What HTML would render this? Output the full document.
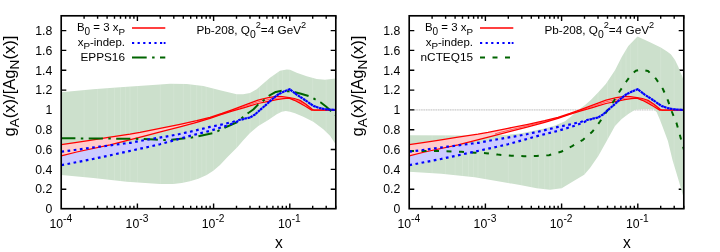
<!DOCTYPE html>
<html><head><meta charset="utf-8"><title>gA(x)/[AgN(x)]</title>
<style>
html,body{margin:0;padding:0;background:#fff;}
svg{display:block;font-family:"Liberation Sans",sans-serif;fill:#000;}
</style></head>
<body>
<svg width="720" height="252" viewBox="0 0 720 252">
<rect width="720" height="252" fill="#fff"/>
<g font-size="12.25">
<text x="52.3" y="213.2" text-anchor="end">0</text>
<text x="52.3" y="193.4" text-anchor="end">0.2</text>
<text x="52.3" y="173.6" text-anchor="end">0.4</text>
<text x="52.3" y="153.7" text-anchor="end">0.6</text>
<text x="52.3" y="133.9" text-anchor="end">0.8</text>
<text x="52.3" y="114.1" text-anchor="end">1</text>
<text x="52.3" y="94.3" text-anchor="end">1.2</text>
<text x="52.3" y="74.5" text-anchor="end">1.4</text>
<text x="52.3" y="54.6" text-anchor="end">1.6</text>
<text x="52.3" y="34.8" text-anchor="end">1.8</text>
<text x="49.4" y="228.4">10<tspan dy="-6.5" font-size="10.2">-4</tspan></text>
<text x="125.6" y="228.4">10<tspan dy="-6.5" font-size="10.2">-3</tspan></text>
<text x="201.8" y="228.4">10<tspan dy="-6.5" font-size="10.2">-2</tspan></text>
<text x="278.0" y="228.4">10<tspan dy="-6.5" font-size="10.2">-1</tspan></text>
</g>
<text transform="translate(15,136.6) rotate(-90)" font-size="16.6">g<tspan dy="3.8" font-size="13.6">A</tspan><tspan dy="-3.8">(x)/[Ag</tspan><tspan dy="3.8" font-size="13.6">N</tspan><tspan dy="-3.8">(x)]</tspan></text>
<text x="278.8" y="247.6" text-anchor="middle" font-size="15.6">x</text>
<clipPath id="c0"><rect x="61.2" y="15.8" width="274.6" height="192.89999999999998"/></clipPath>
<path d="M61.2,109.9H335.8" stroke="#ececec" stroke-width="1.3"/>
<path d="M61.2,109.9H335.8" stroke="#cfcfcf" stroke-width="1.1" stroke-dasharray="1.3 1.1"/>
<g stroke="#000" stroke-width="1.4" fill="none">
<path d="M84.1,208.7v-2.9M84.1,15.8v2.9"/>
<path d="M97.6,208.7v-2.9M97.6,15.8v2.9"/>
<path d="M107.1,208.7v-2.9M107.1,15.8v2.9"/>
<path d="M114.5,208.7v-2.9M114.5,15.8v2.9"/>
<path d="M120.5,208.7v-2.9M120.5,15.8v2.9"/>
<path d="M125.6,208.7v-2.9M125.6,15.8v2.9"/>
<path d="M130.0,208.7v-2.9M130.0,15.8v2.9"/>
<path d="M133.9,208.7v-2.9M133.9,15.8v2.9"/>
<path d="M137.4,208.7v-5.1M137.4,15.8v5.1"/>
<path d="M160.3,208.7v-2.9M160.3,15.8v2.9"/>
<path d="M173.8,208.7v-2.9M173.8,15.8v2.9"/>
<path d="M183.3,208.7v-2.9M183.3,15.8v2.9"/>
<path d="M190.7,208.7v-2.9M190.7,15.8v2.9"/>
<path d="M196.7,208.7v-2.9M196.7,15.8v2.9"/>
<path d="M201.8,208.7v-2.9M201.8,15.8v2.9"/>
<path d="M206.2,208.7v-2.9M206.2,15.8v2.9"/>
<path d="M210.1,208.7v-2.9M210.1,15.8v2.9"/>
<path d="M213.6,208.7v-5.1M213.6,15.8v5.1"/>
<path d="M236.5,208.7v-2.9M236.5,15.8v2.9"/>
<path d="M250.0,208.7v-2.9M250.0,15.8v2.9"/>
<path d="M259.5,208.7v-2.9M259.5,15.8v2.9"/>
<path d="M266.9,208.7v-2.9M266.9,15.8v2.9"/>
<path d="M272.9,208.7v-2.9M272.9,15.8v2.9"/>
<path d="M278.0,208.7v-2.9M278.0,15.8v2.9"/>
<path d="M282.4,208.7v-2.9M282.4,15.8v2.9"/>
<path d="M286.3,208.7v-2.9M286.3,15.8v2.9"/>
<path d="M289.8,208.7v-5.1M289.8,15.8v5.1"/>
<path d="M312.7,208.7v-2.9M312.7,15.8v2.9"/>
<path d="M326.2,208.7v-2.9M326.2,15.8v2.9"/>
<path d="M335.7,208.7v-2.9M335.7,15.8v2.9"/>
<path d="M61.2,189.2h5.1M335.8,189.2h-5.1"/>
<path d="M61.2,169.4h5.1M335.8,169.4h-5.1"/>
<path d="M61.2,149.5h5.1M335.8,149.5h-5.1"/>
<path d="M61.2,129.7h5.1M335.8,129.7h-5.1"/>
<path d="M61.2,109.9h5.1M335.8,109.9h-5.1"/>
<path d="M61.2,90.1h5.1M335.8,90.1h-5.1"/>
<path d="M61.2,70.3h5.1M335.8,70.3h-5.1"/>
<path d="M61.2,50.4h5.1M335.8,50.4h-5.1"/>
<path d="M61.2,30.6h5.1M335.8,30.6h-5.1"/>
</g>
<g clip-path="url(#c0)">
<clipPath id="b0"><polygon points="61.2,92.2 93.0,89.3 120.0,87.2 160.0,84.5 170.0,83.8 186.7,84.0 203.3,86.0 220.0,90.2 236.7,94.3 243.0,94.2 250.0,93.0 256.7,89.3 263.0,83.8 270.0,77.7 280.0,70.7 286.7,69.5 290.0,69.7 296.7,72.7 306.7,76.3 316.7,79.0 325.0,79.7 335.8,78.4 335.8,144.5 330.0,135.8 323.3,129.2 313.3,121.7 303.3,116.7 295.0,113.3 290.0,111.7 285.8,111.0 281.7,111.7 276.7,114.2 268.3,120.0 258.3,126.0 250.0,133.1 243.3,140.2 237.5,147.0 227.5,157.0 220.0,165.0 213.3,170.8 206.7,175.0 198.3,178.8 190.0,181.2 181.7,182.9 173.3,184.0 160.0,184.0 126.7,181.7 93.3,178.0 61.2,175.0"/></clipPath>
<polygon points="61.2,92.2 93.0,89.3 120.0,87.2 160.0,84.5 170.0,83.8 186.7,84.0 203.3,86.0 220.0,90.2 236.7,94.3 243.0,94.2 250.0,93.0 256.7,89.3 263.0,83.8 270.0,77.7 280.0,70.7 286.7,69.5 290.0,69.7 296.7,72.7 306.7,76.3 316.7,79.0 325.0,79.7 335.8,78.4 335.8,144.5 330.0,135.8 323.3,129.2 313.3,121.7 303.3,116.7 295.0,113.3 290.0,111.7 285.8,111.0 281.7,111.7 276.7,114.2 268.3,120.0 258.3,126.0 250.0,133.1 243.3,140.2 237.5,147.0 227.5,157.0 220.0,165.0 213.3,170.8 206.7,175.0 198.3,178.8 190.0,181.2 181.7,182.9 173.3,184.0 160.0,184.0 126.7,181.7 93.3,178.0 61.2,175.0" fill="#cce0cc"/>
<path d="M84.1,15.8V208.7M97.6,15.8V208.7M107.1,15.8V208.7M114.5,15.8V208.7M120.5,15.8V208.7M125.6,15.8V208.7M130.0,15.8V208.7M137.4,15.8V208.7M160.3,15.8V208.7M173.8,15.8V208.7M183.3,15.8V208.7M190.7,15.8V208.7M196.7,15.8V208.7M201.8,15.8V208.7M206.2,15.8V208.7M213.6,15.8V208.7M236.5,15.8V208.7M250.0,15.8V208.7M259.5,15.8V208.7M266.9,15.8V208.7M272.9,15.8V208.7M278.0,15.8V208.7M282.4,15.8V208.7M289.8,15.8V208.7M312.7,15.8V208.7M326.2,15.8V208.7" stroke="#ffffff" stroke-opacity="0.14" stroke-width="0.9" fill="none" clip-path="url(#b0)"/>
<polygon points="61.2,151.7 74.6,150.0 87.1,148.3 99.2,146.7 111.7,145.2 124.2,143.5 130.4,142.8 142.5,140.5 155.0,138.4 167.3,136.3 179.6,134.0 185.8,132.6 193.3,131.0 210.0,126.9 223.3,124.2 233.3,121.7 241.0,119.5 250.0,117.5 255.0,114.5 260.0,110.0 267.5,103.5 273.0,98.5 278.3,94.3 284.0,91.5 289.6,89.2 296.7,94.6 303.0,98.7 308.3,102.3 313.3,105.9 320.0,108.2 326.7,109.4 335.8,109.9 335.8,109.9 326.7,109.4 320.0,108.2 313.3,105.9 308.3,102.3 303.0,98.7 296.7,94.6 289.6,89.2 284.0,91.5 278.3,94.3 273.0,98.5 267.5,103.5 260.0,110.0 255.0,114.5 250.0,117.5 241.0,119.8 235.0,122.5 226.7,125.8 210.0,130.8 193.3,135.0 176.7,139.6 160.0,144.2 153.3,145.8 126.7,151.7 93.0,159.0 61.2,165.2" fill="#ccccff"/>
<polygon points="61.2,144.7 75.0,142.6 90.0,140.3 110.0,137.2 130.0,134.2 140.0,132.4 160.0,128.3 180.0,124.3 196.7,120.6 210.0,117.3 222.0,113.4 232.0,109.9 240.0,106.9 245.3,104.8 250.0,103.1 258.0,100.2 268.3,97.6 276.7,96.4 282.2,96.5 289.0,97.6 294.4,98.5 300.0,100.4 306.0,104.2 312.5,109.6 314.0,110.0 335.8,110.0 335.8,110.0 311.7,110.1 305.0,106.0 300.0,103.1 294.4,100.3 289.0,98.1 283.3,98.7 276.7,99.6 268.3,101.3 258.0,103.5 250.0,105.9 245.3,107.3 240.0,108.9 232.0,111.1 220.0,114.8 210.0,118.4 196.7,122.4 180.0,126.8 163.3,131.2 143.3,136.3 110.0,144.8 76.7,152.0 61.2,155.8" fill="#ffcccc"/>
<polyline points="61.2,144.7 75.0,142.6 90.0,140.3 110.0,137.2 130.0,134.2 140.0,132.4 160.0,128.3 180.0,124.3 196.7,120.6 210.0,117.3 222.0,113.4 232.0,109.9 240.0,106.9 245.3,104.8 250.0,103.1 258.0,100.2 268.3,97.6 276.7,96.4 282.2,96.5 289.0,97.6 294.4,98.5 300.0,100.4 306.0,104.2 312.5,109.6 314.0,110.0 335.8,110.0" fill="none" stroke="#ff0000" stroke-width="1.25" stroke-linejoin="round"/>
<polyline points="61.2,155.8 76.7,152.0 110.0,144.8 143.3,136.3 163.3,131.2 180.0,126.8 196.7,122.4 210.0,118.4 220.0,114.8 232.0,111.1 240.0,108.9 245.3,107.3 250.0,105.9 258.0,103.5 268.3,101.3 276.7,99.6 283.3,98.7 289.0,98.1 294.4,100.3 300.0,103.1 305.0,106.0 311.7,110.1 335.8,110.0" fill="none" stroke="#ff0000" stroke-width="1.25" stroke-linejoin="round"/>
<polyline points="196.7,121.5 210.0,117.9 222.0,114.2 232.0,110.5 240.0,107.9 245.3,106.1 250.0,104.5 258.0,101.8 271.0,98.9 279.4,97.8 289.0,97.8 294.4,99.5 300.0,101.7 306.0,105.1 312.0,110.0" fill="none" stroke="#ff0000" stroke-opacity="0.7" stroke-width="0.8" stroke-linejoin="round"/>
<polyline points="61.2,138.3 100.0,138.5 140.0,138.9 155.0,139.6 164.0,140.0 171.7,139.7 185.8,138.3 191.7,137.5 198.3,136.3 212.5,133.3 218.3,130.8 225.0,127.5 237.5,122.0 242.5,117.5 248.3,113.0 253.3,109.5 258.3,104.4 263.8,100.2 269.2,95.7 275.8,91.9 282.0,90.7 288.8,91.3 295.0,92.3 301.0,93.8 308.8,96.1 314.6,99.0 320.8,102.5 326.0,106.5 331.7,111.7 335.8,115.5" fill="none" stroke="#006400" stroke-width="2" stroke-dasharray="14.2 5.4 2.5 5.4" stroke-linejoin="round"/>
<polyline points="61.2,151.7 74.6,150.0 87.1,148.3 99.2,146.7 111.7,145.2 124.2,143.5 130.4,142.8 142.5,140.5 155.0,138.4 167.3,136.3 179.6,134.0 185.8,132.6 193.3,131.0 210.0,126.9 223.3,124.2 233.3,121.7 241.0,119.5 250.0,117.5 255.0,114.5 260.0,110.0 267.5,103.5 273.0,98.5 278.3,94.3 284.0,91.5 289.6,89.2 296.7,94.6 303.0,98.7 308.3,102.3 313.3,105.9 320.0,108.2 326.7,109.4 335.8,109.9" fill="none" stroke="#0000ff" stroke-width="2.2" stroke-dasharray="2.7 3.5" stroke-dashoffset="-0.2" stroke-linejoin="round"/>
<polyline points="61.2,165.2 93.0,159.0 126.7,151.7 153.3,145.8 160.0,144.2 176.7,139.6 193.3,135.0 210.0,130.8 226.7,125.8 235.0,122.5 241.0,119.8 250.0,117.5 255.0,114.5 260.0,110.0 267.5,103.5 273.0,98.5 278.3,94.3 284.0,91.5 289.6,89.2 296.7,94.6 303.0,98.7 308.3,102.3 313.3,105.9 320.0,108.2 326.7,109.4 335.8,109.9" fill="none" stroke="#0000ff" stroke-width="2.2" stroke-dasharray="2.7 3.5" stroke-dashoffset="-0.2" stroke-linejoin="round"/>
</g>
<rect x="61.2" y="15.8" width="274.6" height="192.89999999999998" fill="none" stroke="#000" stroke-width="1.65"/>
<g font-size="11.45">
<text x="125" y="31" text-anchor="end">B<tspan dy="3.5" font-size="10">0</tspan><tspan dy="-3.5"> = 3 x</tspan><tspan dy="3.5" font-size="9.8">P</tspan></text>
<text x="125" y="45.8" text-anchor="end">x<tspan dy="3.5" font-size="9.8">P</tspan><tspan dy="-3.5">-indep.</tspan></text>
<text x="125" y="60.9" text-anchor="end" font-size="11.8">EPPS16</text>
<text x="196.4" y="34.3" font-size="11.75">Pb-208, Q<tspan dy="3.6" font-size="10.4">0</tspan><tspan dy="-9.5" font-size="9.2">2</tspan><tspan dy="5.9">=4 GeV</tspan><tspan dy="-5.9" font-size="9.2">2</tspan></text>
</g>
<path d="M132,28H165.3" stroke="#ff0000" stroke-width="1.3"/>
<path d="M132,43H165.5" stroke="#0000ff" stroke-width="2.2" stroke-dasharray="2.2 3.4 2.2 3.4 2.2 3.4 2.2 3.4 2.2 3.4 2.2 1.5 2.2 100"/>
<path d="M132,57.6H165.3" stroke="#006400" stroke-width="2" stroke-dasharray="14.7 5.4 2.5 5.4"/>
<g font-size="12.25">
<text x="400.3" y="213.2" text-anchor="end">0</text>
<text x="400.3" y="193.4" text-anchor="end">0.2</text>
<text x="400.3" y="173.6" text-anchor="end">0.4</text>
<text x="400.3" y="153.7" text-anchor="end">0.6</text>
<text x="400.3" y="133.9" text-anchor="end">0.8</text>
<text x="400.3" y="114.1" text-anchor="end">1</text>
<text x="400.3" y="94.3" text-anchor="end">1.2</text>
<text x="400.3" y="74.5" text-anchor="end">1.4</text>
<text x="400.3" y="54.6" text-anchor="end">1.6</text>
<text x="400.3" y="34.8" text-anchor="end">1.8</text>
<text x="397.4" y="228.4">10<tspan dy="-6.5" font-size="10.2">-4</tspan></text>
<text x="473.6" y="228.4">10<tspan dy="-6.5" font-size="10.2">-3</tspan></text>
<text x="549.8" y="228.4">10<tspan dy="-6.5" font-size="10.2">-2</tspan></text>
<text x="626.0" y="228.4">10<tspan dy="-6.5" font-size="10.2">-1</tspan></text>
</g>
<text transform="translate(363.0,136.6) rotate(-90)" font-size="16.6">g<tspan dy="3.8" font-size="13.6">A</tspan><tspan dy="-3.8">(x)/[Ag</tspan><tspan dy="3.8" font-size="13.6">N</tspan><tspan dy="-3.8">(x)]</tspan></text>
<text x="626.8" y="247.6" text-anchor="middle" font-size="15.6">x</text>
<clipPath id="c348"><rect x="409.2" y="15.8" width="274.6" height="192.89999999999998"/></clipPath>
<path d="M409.2,109.9H683.8" stroke="#ececec" stroke-width="1.3"/>
<path d="M409.2,109.9H683.8" stroke="#cfcfcf" stroke-width="1.1" stroke-dasharray="1.3 1.1"/>
<g stroke="#000" stroke-width="1.4" fill="none">
<path d="M432.1,208.7v-2.9M432.1,15.8v2.9"/>
<path d="M445.6,208.7v-2.9M445.6,15.8v2.9"/>
<path d="M455.1,208.7v-2.9M455.1,15.8v2.9"/>
<path d="M462.5,208.7v-2.9M462.5,15.8v2.9"/>
<path d="M468.5,208.7v-2.9M468.5,15.8v2.9"/>
<path d="M473.6,208.7v-2.9M473.6,15.8v2.9"/>
<path d="M478.0,208.7v-2.9M478.0,15.8v2.9"/>
<path d="M481.9,208.7v-2.9M481.9,15.8v2.9"/>
<path d="M485.4,208.7v-5.1M485.4,15.8v5.1"/>
<path d="M508.3,208.7v-2.9M508.3,15.8v2.9"/>
<path d="M521.8,208.7v-2.9M521.8,15.8v2.9"/>
<path d="M531.3,208.7v-2.9M531.3,15.8v2.9"/>
<path d="M538.7,208.7v-2.9M538.7,15.8v2.9"/>
<path d="M544.7,208.7v-2.9M544.7,15.8v2.9"/>
<path d="M549.8,208.7v-2.9M549.8,15.8v2.9"/>
<path d="M554.2,208.7v-2.9M554.2,15.8v2.9"/>
<path d="M558.1,208.7v-2.9M558.1,15.8v2.9"/>
<path d="M561.6,208.7v-5.1M561.6,15.8v5.1"/>
<path d="M584.5,208.7v-2.9M584.5,15.8v2.9"/>
<path d="M598.0,208.7v-2.9M598.0,15.8v2.9"/>
<path d="M607.5,208.7v-2.9M607.5,15.8v2.9"/>
<path d="M614.9,208.7v-2.9M614.9,15.8v2.9"/>
<path d="M620.9,208.7v-2.9M620.9,15.8v2.9"/>
<path d="M626.0,208.7v-2.9M626.0,15.8v2.9"/>
<path d="M630.4,208.7v-2.9M630.4,15.8v2.9"/>
<path d="M634.3,208.7v-2.9M634.3,15.8v2.9"/>
<path d="M637.8,208.7v-5.1M637.8,15.8v5.1"/>
<path d="M660.7,208.7v-2.9M660.7,15.8v2.9"/>
<path d="M674.2,208.7v-2.9M674.2,15.8v2.9"/>
<path d="M683.7,208.7v-2.9M683.7,15.8v2.9"/>
<path d="M409.2,189.2h5.1M683.8,189.2h-5.1"/>
<path d="M409.2,169.4h5.1M683.8,169.4h-5.1"/>
<path d="M409.2,149.5h5.1M683.8,149.5h-5.1"/>
<path d="M409.2,129.7h5.1M683.8,129.7h-5.1"/>
<path d="M409.2,109.9h5.1M683.8,109.9h-5.1"/>
<path d="M409.2,90.1h5.1M683.8,90.1h-5.1"/>
<path d="M409.2,70.3h5.1M683.8,70.3h-5.1"/>
<path d="M409.2,50.4h5.1M683.8,50.4h-5.1"/>
<path d="M409.2,30.6h5.1M683.8,30.6h-5.1"/>
</g>
<g clip-path="url(#c348)">
<clipPath id="b348"><polygon points="409.0,135.2 480.0,135.5 505.0,135.1 520.0,133.5 535.0,130.5 546.7,128.0 555.0,125.5 565.0,121.2 571.0,116.5 578.3,110.0 585.0,105.0 590.8,100.0 598.3,92.3 605.8,84.0 615.0,70.3 621.7,57.0 628.3,46.0 637.5,36.5 650.0,42.3 660.8,47.5 666.7,51.2 670.8,54.2 675.0,60.0 678.3,66.7 680.0,71.0 682.1,76.0 683.4,80.0 684.3,83.0 684.3,200.0 682.9,195.2 678.8,181.0 672.5,160.0 667.9,141.0 662.3,126.0 660.0,120.0 656.7,112.3 653.3,109.0 643.3,109.0 635.0,109.8 628.3,114.0 621.7,119.0 615.0,126.0 606.7,141.0 598.3,156.0 590.0,168.0 584.2,174.7 573.3,181.3 561.7,188.3 550.0,189.7 536.7,188.3 520.0,184.9 508.0,183.0 474.7,177.2 441.3,173.8 409.0,171.7"/></clipPath>
<polygon points="409.0,135.2 480.0,135.5 505.0,135.1 520.0,133.5 535.0,130.5 546.7,128.0 555.0,125.5 565.0,121.2 571.0,116.5 578.3,110.0 585.0,105.0 590.8,100.0 598.3,92.3 605.8,84.0 615.0,70.3 621.7,57.0 628.3,46.0 637.5,36.5 650.0,42.3 660.8,47.5 666.7,51.2 670.8,54.2 675.0,60.0 678.3,66.7 680.0,71.0 682.1,76.0 683.4,80.0 684.3,83.0 684.3,200.0 682.9,195.2 678.8,181.0 672.5,160.0 667.9,141.0 662.3,126.0 660.0,120.0 656.7,112.3 653.3,109.0 643.3,109.0 635.0,109.8 628.3,114.0 621.7,119.0 615.0,126.0 606.7,141.0 598.3,156.0 590.0,168.0 584.2,174.7 573.3,181.3 561.7,188.3 550.0,189.7 536.7,188.3 520.0,184.9 508.0,183.0 474.7,177.2 441.3,173.8 409.0,171.7" fill="#cce0cc"/>
<path d="M432.1,15.8V208.7M445.6,15.8V208.7M455.1,15.8V208.7M462.5,15.8V208.7M468.5,15.8V208.7M473.6,15.8V208.7M478.0,15.8V208.7M485.4,15.8V208.7M508.3,15.8V208.7M521.8,15.8V208.7M531.3,15.8V208.7M538.7,15.8V208.7M544.7,15.8V208.7M549.8,15.8V208.7M554.2,15.8V208.7M561.6,15.8V208.7M584.5,15.8V208.7M598.0,15.8V208.7M607.5,15.8V208.7M614.9,15.8V208.7M620.9,15.8V208.7M626.0,15.8V208.7M630.4,15.8V208.7M637.8,15.8V208.7M660.7,15.8V208.7M674.2,15.8V208.7" stroke="#ffffff" stroke-opacity="0.14" stroke-width="0.9" fill="none" clip-path="url(#b348)"/>
<polygon points="409.2,151.7 422.6,150.0 435.1,148.3 447.2,146.7 459.7,145.2 472.2,143.5 478.4,142.8 490.5,140.5 503.0,138.4 515.3,136.3 527.6,134.0 533.8,132.6 541.3,131.0 558.0,126.9 571.3,124.2 581.3,121.7 589.0,119.5 598.0,117.5 603.0,114.5 608.0,110.0 615.5,103.5 621.0,98.5 626.3,94.3 632.0,91.5 637.6,89.2 644.7,94.6 651.0,98.7 656.3,102.3 661.3,105.9 668.0,108.2 674.7,109.4 683.8,109.9 683.8,109.9 674.7,109.4 668.0,108.2 661.3,105.9 656.3,102.3 651.0,98.7 644.7,94.6 637.6,89.2 632.0,91.5 626.3,94.3 621.0,98.5 615.5,103.5 608.0,110.0 603.0,114.5 598.0,117.5 589.0,119.8 583.0,122.5 574.7,125.8 558.0,130.8 541.3,135.0 524.7,139.6 508.0,144.2 501.3,145.8 474.7,151.7 441.0,159.0 409.2,165.2" fill="#ccccff"/>
<polygon points="409.2,144.7 423.0,142.6 438.0,140.3 458.0,137.2 478.0,134.2 488.0,132.4 508.0,128.3 528.0,124.3 544.7,120.6 558.0,117.3 570.0,113.4 580.0,109.9 588.0,106.9 593.3,104.8 598.0,103.1 606.0,100.2 616.3,97.6 624.7,96.4 630.2,96.5 637.0,97.6 642.4,98.5 648.0,100.4 654.0,104.2 660.5,109.6 662.0,110.0 683.8,110.0 683.8,110.0 659.7,110.1 653.0,106.0 648.0,103.1 642.4,100.3 637.0,98.1 631.3,98.7 624.7,99.6 616.3,101.3 606.0,103.5 598.0,105.9 593.3,107.3 588.0,108.9 580.0,111.1 568.0,114.8 558.0,118.4 544.7,122.4 528.0,126.8 511.3,131.2 491.3,136.3 458.0,144.8 424.7,152.0 409.2,155.8" fill="#ffcccc"/>
<polyline points="409.2,144.7 423.0,142.6 438.0,140.3 458.0,137.2 478.0,134.2 488.0,132.4 508.0,128.3 528.0,124.3 544.7,120.6 558.0,117.3 570.0,113.4 580.0,109.9 588.0,106.9 593.3,104.8 598.0,103.1 606.0,100.2 616.3,97.6 624.7,96.4 630.2,96.5 637.0,97.6 642.4,98.5 648.0,100.4 654.0,104.2 660.5,109.6 662.0,110.0 683.8,110.0" fill="none" stroke="#ff0000" stroke-width="1.25" stroke-linejoin="round"/>
<polyline points="409.2,155.8 424.7,152.0 458.0,144.8 491.3,136.3 511.3,131.2 528.0,126.8 544.7,122.4 558.0,118.4 568.0,114.8 580.0,111.1 588.0,108.9 593.3,107.3 598.0,105.9 606.0,103.5 616.3,101.3 624.7,99.6 631.3,98.7 637.0,98.1 642.4,100.3 648.0,103.1 653.0,106.0 659.7,110.1 683.8,110.0" fill="none" stroke="#ff0000" stroke-width="1.25" stroke-linejoin="round"/>
<polyline points="495.0,133.9 500.0,132.4 505.0,131.2 528.0,125.6 544.7,121.5 558.0,117.9 570.0,114.2 580.0,110.5 588.0,107.9 593.3,106.1 598.0,104.5 606.0,101.8 619.0,98.9 627.4,97.8 637.0,97.8 642.4,99.5 648.0,101.7 654.0,105.1 660.0,110.0" fill="none" stroke="#ff0000" stroke-opacity="0.7" stroke-width="0.8" stroke-linejoin="round"/>
<polyline points="409.0,151.0 436.3,151.0 461.3,151.8 474.7,152.7 486.0,153.2 498.0,154.6 511.7,155.8 524.0,156.2 536.7,156.0 549.0,155.2 561.0,151.8 571.7,146.4 583.0,139.8 592.5,131.5 600.0,121.5 607.0,111.0 614.0,100.7 620.4,90.2 626.7,81.0 631.0,75.0 635.8,70.8 641.0,69.5 648.0,71.0 656.0,78.8 662.9,89.0 668.0,100.7 672.0,112.0 676.7,123.7 680.0,135.6 684.0,150.0" fill="none" stroke="#006400" stroke-width="2" stroke-dasharray="5 7.5" stroke-linejoin="round"/>
<polyline points="409.2,151.7 422.6,150.0 435.1,148.3 447.2,146.7 459.7,145.2 472.2,143.5 478.4,142.8 490.5,140.5 503.0,138.4 515.3,136.3 527.6,134.0 533.8,132.6 541.3,131.0 558.0,126.9 571.3,124.2 581.3,121.7 589.0,119.5 598.0,117.5 603.0,114.5 608.0,110.0 615.5,103.5 621.0,98.5 626.3,94.3 632.0,91.5 637.6,89.2 644.7,94.6 651.0,98.7 656.3,102.3 661.3,105.9 668.0,108.2 674.7,109.4 683.8,109.9" fill="none" stroke="#0000ff" stroke-width="2.2" stroke-dasharray="2.7 3.5" stroke-dashoffset="-0.2" stroke-linejoin="round"/>
<polyline points="409.2,165.2 441.0,159.0 474.7,151.7 501.3,145.8 508.0,144.2 524.7,139.6 541.3,135.0 558.0,130.8 574.7,125.8 583.0,122.5 589.0,119.8 598.0,117.5 603.0,114.5 608.0,110.0 615.5,103.5 621.0,98.5 626.3,94.3 632.0,91.5 637.6,89.2 644.7,94.6 651.0,98.7 656.3,102.3 661.3,105.9 668.0,108.2 674.7,109.4 683.8,109.9" fill="none" stroke="#0000ff" stroke-width="2.2" stroke-dasharray="2.7 3.5" stroke-dashoffset="-0.2" stroke-linejoin="round"/>
</g>
<rect x="409.2" y="15.8" width="274.6" height="192.89999999999998" fill="none" stroke="#000" stroke-width="1.65"/>
<g font-size="11.45">
<text x="473.0" y="31" text-anchor="end">B<tspan dy="3.5" font-size="10">0</tspan><tspan dy="-3.5"> = 3 x</tspan><tspan dy="3.5" font-size="9.8">P</tspan></text>
<text x="473.0" y="45.8" text-anchor="end">x<tspan dy="3.5" font-size="9.8">P</tspan><tspan dy="-3.5">-indep.</tspan></text>
<text x="473.0" y="60.9" text-anchor="end" font-size="11.8">nCTEQ15</text>
<text x="544.4" y="34.3" font-size="11.75">Pb-208, Q<tspan dy="3.6" font-size="10.4">0</tspan><tspan dy="-9.5" font-size="9.2">2</tspan><tspan dy="5.9">=4 GeV</tspan><tspan dy="-5.9" font-size="9.2">2</tspan></text>
</g>
<path d="M480.0,28H513.3" stroke="#ff0000" stroke-width="1.3"/>
<path d="M480.0,43H513.5" stroke="#0000ff" stroke-width="2.2" stroke-dasharray="2.2 3.4 2.2 3.4 2.2 3.4 2.2 3.4 2.2 3.4 2.2 1.5 2.2 100"/>
<path d="M480.0,57.6H513.3" stroke="#006400" stroke-width="2" stroke-dasharray="5 7.5"/>
</svg>
</body></html>
